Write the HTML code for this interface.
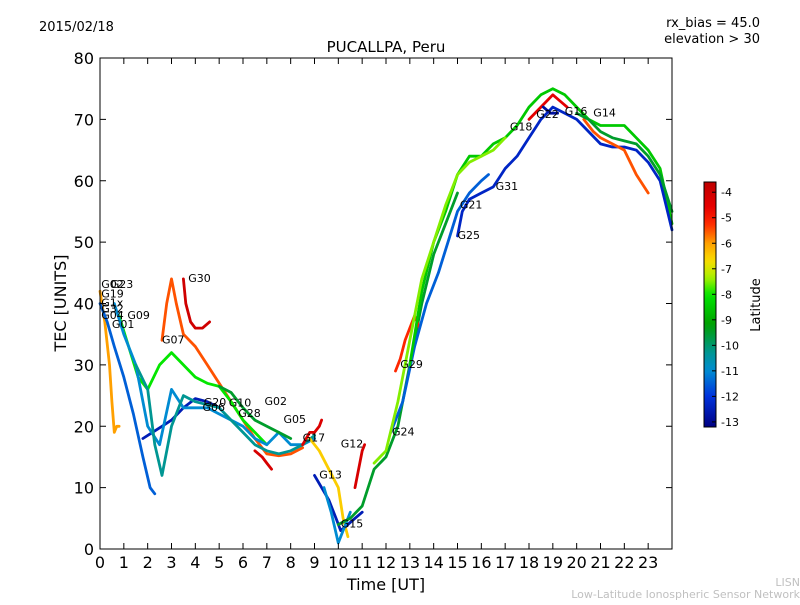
<!DOCTYPE html>
<html><head><meta charset="utf-8">
<style>
body{margin:0;background:#fff;font-family:"Liberation Sans","DejaVu Sans",sans-serif;}
svg text{font-family:"DejaVu Sans","Liberation Sans",sans-serif;}
</style></head>
<body>
<svg id="chart" width="800" height="600" viewBox="0 0 800 600" xmlns="http://www.w3.org/2000/svg">
<rect width="800" height="600" fill="#fff"/>
<text x="39" y="31" font-size="13">2015/02/18</text>
<text x="760" y="27" font-size="13" text-anchor="end">rx_bias = 45.0</text>
<text x="760" y="43" font-size="13" text-anchor="end">elevation &gt; 30</text>
<text x="386" y="52" font-size="15" text-anchor="middle">PUCALLPA, Peru</text>
<text x="386" y="590" font-size="16" text-anchor="middle">Time [UT]</text>
<text x="66" y="303" font-size="16" text-anchor="middle" transform="rotate(-90 66 303)">TEC [UNITS]</text>
<text x="800" y="586" font-size="11" fill="#c0c0c0" text-anchor="end">LISN</text>
<text x="800" y="598" font-size="11" fill="#c0c0c0" text-anchor="end">Low-Latitude Ionospheric Sensor Network</text>
<g id="marks"></g>
<g id="axes"></g>
<g id="cbar"></g>
</svg>
<script>
// ---- data ----
const xTicks = [0,1,2,3,4,5,6,7,8,9,10,11,12,13,14,15,16,17,18,19,20,21,22,23];
const yTicks = [0,10,20,30,40,50,60,70,80];
const cbTicks = [-4,-5,-6,-7,-8,-9,-10,-11,-12,-13];
const trackNames = ["G23","G09","G07","G30","G02","G20","G06","G05","G28","G10","G17","G12","G13","G15","G24","G29","G31","G21","G22","G16","G14","G18","G25","G01","G04"];
const trackTimes = [
 [0,0.2,0.4,0.5,0.6,0.7,0.8],
 [0,0.3,0.6,1.0,1.4,1.8,2.1,2.3],
 [2.6,2.8,3.0,3.2,3.5,4.0,4.5,5.0,5.5,6.0,6.5,7.0,7.5,8.0,8.5],
 [3.5,3.6,3.8,4.0,4.3,4.6],
 [0.8,1.2,1.6,2.0,2.5,3.0,3.5,4.0,4.5,5.0,5.5,6.0,6.5,7.0],
 [1.8,2.2,2.6,3.0,3.5,4.0,4.5,5.0],
 [0.6,1.0,1.5,2.0,2.5,3.0,3.5,4.0,4.5,5.0,5.5,6.0,6.5,7.0,7.5,8.0,8.5,9.0],
 [5.0,5.5,6.0,6.5,7.0,7.5,8.0],
 [1.5,2.0,2.3,2.6,3.0,3.5,4.0,5.0,5.5,6.0,6.5,7.0,7.5,8.0,8.5,9.0],
 [6.5,6.8,7.0,7.2],
 [8.5,8.8,9.0,9.2,9.3],
 [8.8,9.2,9.6,10.0,10.2,10.4],
 [9.0,9.3,9.6,9.9,10.1,10.4,10.7,11.0],
 [9.4,9.7,10.0,10.2,10.5],
 [10.0,10.5,11.0,11.5,12.0,12.5,13.0,13.5,14.0,14.5,15.0],
 [12.4,12.6,12.8,13.0,13.2,13.4],
 [12.2,12.7,13.2,13.7,14.2,14.6,15.0,15.5,16.0,16.3],
 [13.0,13.5,14.0,14.5,15.0,15.5,16.0,16.5,17.0,17.5,18.0,18.5,19.0,19.5,20.0,20.5,21.0,21.5,22.0,22.5,23.0,23.5,24.0],
 [15.0,15.2,15.5,16.0,16.5,17.0,17.5,18.0,18.5,19.0,19.5,20.0,20.5,21.0,21.5,22.0,22.5,23.0,23.5,24.0],
 [18.0,18.5,19.0,19.3,19.6],
 [18.6,18.9,19.2],
 [20.3,20.7,21.0,21.5,22.0,22.5,23.0],
 [10.7,10.9,11.0,11.1],
 [11.5,12.0,12.5,13.0,13.5,14.0,14.5,15.0,15.5,16.0,16.5,17.0],
 [20.0,20.5,21.0,21.5,22.0,22.5,23.0,23.5,24.0]
];
const trackTec = [
 [42,37,30,24,19,20,20],
 [40,37,33,28,22,15,10,9],
 [34,40,44,40,35,33,30,27,24,21,18,15.5,15.2,15.5,16.5],
 [44,40,37,36,36,37],
 [38,33,28,26,30,32,30,28,27,26.5,24,21,19,17],
 [18,19,20,21,23,24.5,24,23],
 [40,35,30,20,17,26,23,23,23,22,21,20,18,17,19,17,17,18],
 [26.5,25.5,23,21,20,19,18],
 [30,26,17,12,20,25,24,23,21,19,17,16,15.5,16,17,18.5],
 [16,15,14,13],
 [17,19,19,20,21],
 [18,16,13,10,5,2],
 [12,10,8,5,3,4,5,6],
 [10,6,1,3,6],
 [4,5,7,13,15,20,30,40,48,53,58],
 [29,31,34,36,38,36],
 [19,24,33,40,45,50,55,58,60,61],
 [30,42,50,55,61,64,64,66,67,69,72,74,75,74,72,70,69,69,69,67,65,62,53],
 [51,55,57,58,59,62,64,67,70,72,71,70,68,66,65.5,65.5,65,63,60,52],
 [70,72,74,73,72],
 [72,71,71],
 [70,68,67,66,65,61,58],
 [10,14,16,17],
 [14,16,24,34,44,50,56,61,63,64,65,67],
 [71,70,68,67,66.5,66,64,61,55]
];
const trackLat = [-6,-11.5,-5.5,-4,-8,-12.5,-11,-9.5,-10.3,-4.2,-4.3,-6.5,-12.5,-11,-9.5,-5.2,-11.5,-8.5,-12.3,-4.5,-12.8,-5.5,-4.2,-7.5,-9.5];
const labelNames = ["G02","G23","G19","G1x","G32","G04","G01","G09","G07","G30","G20","G06","G10","G28","G02","G05","G17","G12","G13","G15","G24","G29","G21","G25","G31","G18","G22","G16","G14"];
const labelT = [0.05,0.45,0.05,0.05,0.05,0.05,0.5,1.15,2.6,3.7,4.35,4.3,5.4,5.8,6.9,7.7,8.5,10.1,9.2,10.1,12.25,12.6,15.1,15.0,16.6,17.2,18.3,19.5,20.7];
const labelTec = [42.5,42.5,41,39.5,38.5,37.5,36,37.5,33.5,43.5,23.3,22.5,23.2,21.5,23.5,20.5,17.5,16.5,11.5,3.5,18.5,29.5,55.5,50.5,58.5,68.2,70.2,70.7,70.5];

// ---- scales ----
const X0=100,X1=672,Y0=58,Y1=549,TMAX=24,VMAX=80;
const xs=t=>X0+t*(X1-X0)/TMAX;
const ys=v=>Y1-v*(Y1-Y0)/VMAX;
const CB={x:704,w:12,top:182,bot:427,lo:-13.2,hi:-3.6};
const cbY=l=>CB.bot-(l-CB.lo)/(CB.hi-CB.lo)*(CB.bot-CB.top);
const CMAP=[[0,0,0,130],[0.125,0,50,220],[0.23,0,140,210],[0.30,0,150,150],[0.42,0,160,0],[0.54,0,230,0],[0.61,170,240,0],[0.68,250,220,0],[0.75,255,160,0],[0.83,255,40,0],[0.9,230,0,0],[1,190,0,0]];
function cmap(f){f=Math.max(0,Math.min(1,f));
 for(let i=1;i<CMAP.length;i++){if(f<=CMAP[i][0]){const a=CMAP[i-1],b=CMAP[i],u=(f-a[0])/(b[0]-a[0]);
  return `rgb(${Math.round(a[1]+u*(b[1]-a[1]))},${Math.round(a[2]+u*(b[2]-a[2]))},${Math.round(a[3]+u*(b[3]-a[3]))})`;}}
 return "rgb(190,0,0)";}
const latColor=l=>cmap((l-CB.lo)/(CB.hi-CB.lo));
const NS="http://www.w3.org/2000/svg";
function mk(tag,attrs,parent){const e=document.createElementNS(NS,tag);for(const k in attrs)e.setAttribute(k,attrs[k]);parent.appendChild(e);return e;}

// ---- tracks ----
const marks=document.getElementById('marks');
trackTimes.forEach((ts,i)=>{
 const pts=ts.map((t,j)=>xs(t).toFixed(1)+","+ys(trackTec[i][j]).toFixed(1)).join(" ");
 const p=mk('polyline',{points:pts,fill:"none",stroke:latColor(trackLat[i]),"stroke-width":2.8,"stroke-linejoin":"round","stroke-linecap":"round"},marks);
 
 
});
labelNames.forEach((n,i)=>{
 const t=mk('text',{x:xs(labelT[i]).toFixed(1),y:ys(labelTec[i]).toFixed(1),"font-size":11},marks);
 t.textContent=n;
 
 
});

// ---- axes ----
const ax=document.getElementById('axes');
const frame=mk('rect',{x:X0,y:Y0,width:X1-X0,height:Y1-Y0,fill:"none",stroke:"#000","stroke-width":1},ax);


xTicks.forEach(v=>{const x=xs(v);
 mk('line',{x1:x,x2:x,y1:Y1,y2:Y1-6,stroke:"#000"},ax);
 mk('line',{x1:x,x2:x,y1:Y0,y2:Y0+6,stroke:"#000"},ax);
 const t=mk('text',{x:x,y:Y1+19,"font-size":16,"text-anchor":"middle"},ax);t.textContent=v;
 
 
});
yTicks.forEach(v=>{const y=ys(v);
 mk('line',{x1:X0,x2:X0+6,y1:y,y2:y,stroke:"#000"},ax);
 mk('line',{x1:X1,x2:X1-6,y1:y,y2:y,stroke:"#000"},ax);
 const t=mk('text',{x:X0-6,y:y+6,"font-size":16,"text-anchor":"end"},ax);t.textContent=v;
 
 
});

// ---- colorbar ----
const cb=document.getElementById('cbar');
const defs=mk('defs',{},cb);
const g=mk('linearGradient',{id:"cmapg",x1:0,y1:1,x2:0,y2:0},defs);
for(let i=0;i<=40;i++)mk('stop',{offset:i/40,"stop-color":cmap(i/40)},g);
const cr=mk('rect',{x:CB.x,y:CB.top,width:CB.w,height:CB.bot-CB.top,fill:"url(#cmapg)",stroke:"#000","stroke-width":1},cb);


cbTicks.forEach(v=>{const y=cbY(v);
 mk('line',{x1:CB.x+CB.w-4,x2:CB.x+CB.w,y1:y,y2:y,stroke:"#000"},cb);
 const t=mk('text',{x:CB.x+CB.w+5,y:y+4,"font-size":11},cb);t.textContent=v;
 
 
});
const cl=mk('text',{x:760,y:305,"font-size":13,"text-anchor":"middle",transform:"rotate(-90 760 305)"},cb);
cl.textContent="Latitude";


</script>
</body></html>
